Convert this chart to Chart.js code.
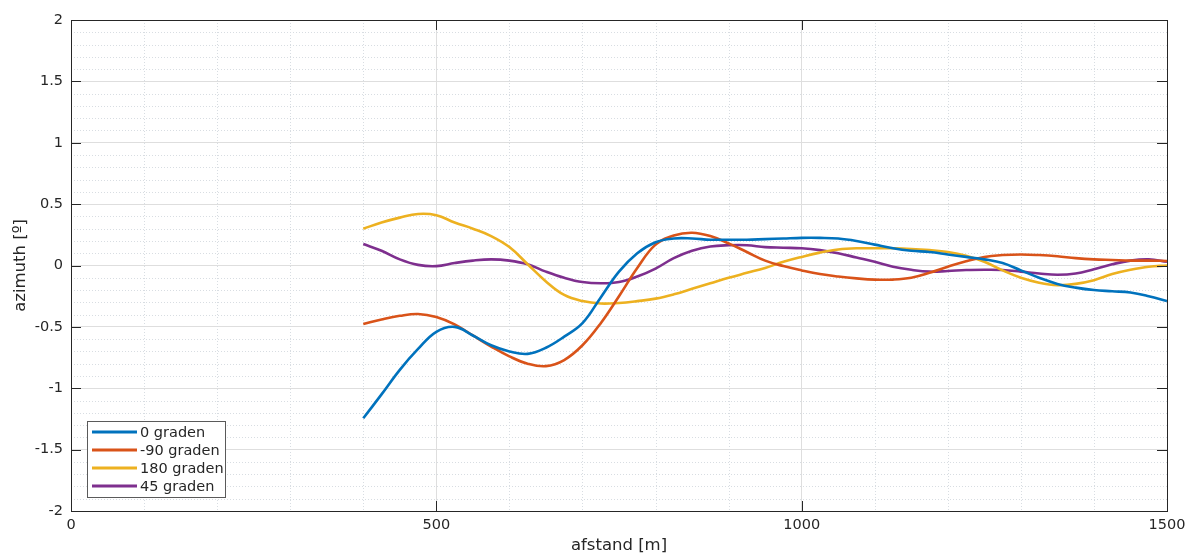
<!DOCTYPE html>
<html>
<head>
<meta charset="utf-8">
<script src="https://cdn.jsdelivr.net/npm/chart.js@4/dist/chart.umd.min.js"></script>
<style>
  html, body { margin: 0; padding: 0; background: #fff; }
  #wrap { width: 1199px; height: 556px; }
</style>
</head>
<body>
<div id="wrap"><canvas id="azimuthChart" width="1199" height="556"></canvas></div>
<script>
// afstand [m], elke 25 m
const afstand = [400, 425, 450, 475, 500, 525, 550, 575, 600, 625, 650, 675, 700, 725, 750, 775, 800, 825, 850, 875, 900, 925, 950, 975, 1000, 1025, 1050, 1075, 1100, 1125, 1150, 1175, 1200, 1225, 1250, 1275, 1300, 1325, 1350, 1375, 1400, 1425, 1450, 1475, 1500];

const graden0 = [-1.245, -1.05, -0.85, -0.68, -0.54, -0.50, -0.57, -0.65, -0.70, -0.72, -0.67, -0.58, -0.47, -0.26, -0.05, 0.10, 0.19, 0.22, 0.22, 0.21, 0.21, 0.21, 0.215, 0.22, 0.225, 0.225, 0.22, 0.20, 0.17, 0.14, 0.12, 0.11, 0.09, 0.07, 0.05, 0.02, -0.04, -0.10, -0.15, -0.18, -0.20, -0.21, -0.22, -0.25, -0.29];
const gradenMin90 = [-0.477, -0.44, -0.41, -0.395, -0.42, -0.48, -0.57, -0.66, -0.74, -0.80, -0.82, -0.77, -0.65, -0.47, -0.25, -0.02, 0.17, 0.245, 0.267, 0.24, 0.18, 0.11, 0.04, -0.005, -0.04, -0.07, -0.09, -0.105, -0.115, -0.115, -0.10, -0.06, -0.01, 0.035, 0.07, 0.085, 0.09, 0.085, 0.075, 0.06, 0.05, 0.045, 0.04, 0.04, 0.037];
const graden180 = [0.30, 0.35, 0.39, 0.42, 0.41, 0.35, 0.30, 0.24, 0.15, 0.01, -0.13, -0.24, -0.29, -0.31, -0.305, -0.29, -0.27, -0.235, -0.19, -0.145, -0.10, -0.06, -0.02, 0.03, 0.07, 0.105, 0.13, 0.14, 0.14, 0.14, 0.135, 0.125, 0.11, 0.08, 0.03, -0.04, -0.10, -0.14, -0.16, -0.15, -0.12, -0.07, -0.035, -0.01, 0.0];
const graden45 = [0.175, 0.12, 0.05, 0.005, -0.005, 0.02, 0.04, 0.05, 0.04, 0.01, -0.05, -0.10, -0.135, -0.145, -0.135, -0.09, -0.025, 0.06, 0.12, 0.155, 0.165, 0.165, 0.15, 0.145, 0.14, 0.125, 0.10, 0.065, 0.03, -0.01, -0.035, -0.05, -0.045, -0.037, -0.035, -0.037, -0.05, -0.065, -0.075, -0.065, -0.03, 0.01, 0.04, 0.05, 0.03];

const series = [
  { label: '0 graden', values: graden0, color: '#0072BD' },
  { label: '-90 graden', values: gradenMin90, color: '#D95319' },
  { label: '180 graden', values: graden180, color: '#EDB120' },
  { label: '45 graden', values: graden45, color: '#7E2F8E' }
];

const FONT = 'DejaVu Sans, Liberation Sans, sans-serif';
const AXIS_COLOR = '#262626';

// minor grid (dotted) + box + inward ticks, MATLAB style
const matlabAxes = {
  id: 'matlabAxes',
  beforeDatasetsDraw(chart) {
    const { ctx, chartArea: a, scales: { x, y } } = chart;
    ctx.save();
    ctx.strokeStyle = '#d8dde2';
    ctx.lineWidth = 1;
    ctx.setLineDash([1, 2]);
    for (let v = 100; v < 1500; v += 100) {
      if (v % 500 === 0) continue;
      const px = Math.round(x.getPixelForValue(v)) + 0.5;
      ctx.beginPath(); ctx.moveTo(px, a.top); ctx.lineTo(px, a.bottom); ctx.stroke();
    }
    for (let i = -19; i < 20; i++) {
      if (i % 5 === 0) continue;
      const py = Math.round(y.getPixelForValue(i / 10)) + 0.5;
      ctx.beginPath(); ctx.moveTo(a.left, py); ctx.lineTo(a.right, py); ctx.stroke();
    }
    ctx.restore();
  },
  afterDatasetsDraw(chart) {
    const { ctx, chartArea: a, scales: { x, y } } = chart;
    ctx.save();
    ctx.strokeStyle = AXIS_COLOR;
    ctx.lineWidth = 1;
    ctx.strokeRect(Math.round(a.left) + 0.5, Math.round(a.top) + 0.5, Math.round(a.right - a.left), Math.round(a.bottom - a.top));
    const len = 10;
    ctx.beginPath();
    for (let v = 0; v <= 1500; v += 500) {
      const px = Math.round(x.getPixelForValue(v)) + 0.5;
      ctx.moveTo(px, a.bottom); ctx.lineTo(px, a.bottom - len);
      ctx.moveTo(px, a.top); ctx.lineTo(px, a.top + len);
    }
    for (let v = -2; v <= 2; v += 0.5) {
      const py = Math.round(y.getPixelForValue(v)) + 0.5;
      ctx.moveTo(a.left, py); ctx.lineTo(a.left + len, py);
      ctx.moveTo(a.right, py); ctx.lineTo(a.right - len, py);
    }
    ctx.stroke();
    ctx.restore();
  },
  afterDraw(chart) {
    // legend box linksonder
    const { ctx, chartArea: a } = chart;
    const bx = a.left + 16, by = 421, bw = 138, bh = 76;
    ctx.save();
    ctx.fillStyle = '#fff';
    ctx.fillRect(bx, by, bw, bh);
    ctx.strokeStyle = '#5a5a5a';
    ctx.lineWidth = 1;
    ctx.strokeRect(bx + 0.5, by + 0.5, bw, bh);
    ctx.font = '14.5px ' + FONT;
    ctx.textBaseline = 'middle';
    chart.data.datasets.forEach((ds, i) => {
      const cy = by + 11 + i * 18;
      ctx.strokeStyle = ds.borderColor;
      ctx.lineWidth = 3;
      ctx.beginPath(); ctx.moveTo(bx + 5, cy); ctx.lineTo(bx + 50, cy); ctx.stroke();
      ctx.fillStyle = AXIS_COLOR;
      ctx.fillText(ds.label, bx + 53, cy + 1);
    });
    ctx.restore();
  }
};

const ctx = document.getElementById('azimuthChart').getContext('2d');
const chart = new Chart(ctx, {
  type: 'line',
  data: {
    datasets: series.map(s => ({
      label: s.label,
      data: afstand.map((d, i) => ({ x: d, y: s.values[i] })),
      borderColor: s.color,
      backgroundColor: s.color,
      borderWidth: 2.6,
      pointRadius: 0,
      tension: 0.4,
      fill: false
    }))
  },
  options: {
    responsive: false,
    animation: false,
    devicePixelRatio: 1,
    layout: { padding: { top: 20, right: 32, left: 0, bottom: 0 } },
    plugins: {
      legend: { display: false },
      tooltip: { enabled: false }
    },
    scales: {
      x: {
        type: 'linear',
        min: 0,
        max: 1500,
        afterFit: s => { s.height = 45; },
        ticks: {
          stepSize: 500,
          color: AXIS_COLOR,
          padding: 6,
          maxRotation: 0,
          callback: v => String(v),
          font: { family: FONT, size: 14.5 }
        },
        grid: { color: '#dedede', drawTicks: false },
        border: { display: false },
        title: {
          display: true,
          text: 'afstand [m]',
          color: AXIS_COLOR,
          padding: { top: 0, bottom: 0 },
          font: { family: FONT, size: 16.5 }
        }
      },
      y: {
        min: -2,
        max: 2,
        afterFit: s => { s.width = 71; },
        ticks: {
          stepSize: 0.5,
          color: AXIS_COLOR,
          padding: 8,
          callback: v => String(Math.round(v * 10) / 10),
          font: { family: FONT, size: 14.5 }
        },
        grid: { color: '#dedede', drawTicks: false },
        border: { display: false },
        title: {
          display: true,
          text: 'azimuth [º]',
          color: AXIS_COLOR,
          padding: { top: 11, bottom: 0 },
          font: { family: FONT, size: 16.5 }
        }
      }
    }
  },
  plugins: [matlabAxes]
});
</script>
</body>
</html>
